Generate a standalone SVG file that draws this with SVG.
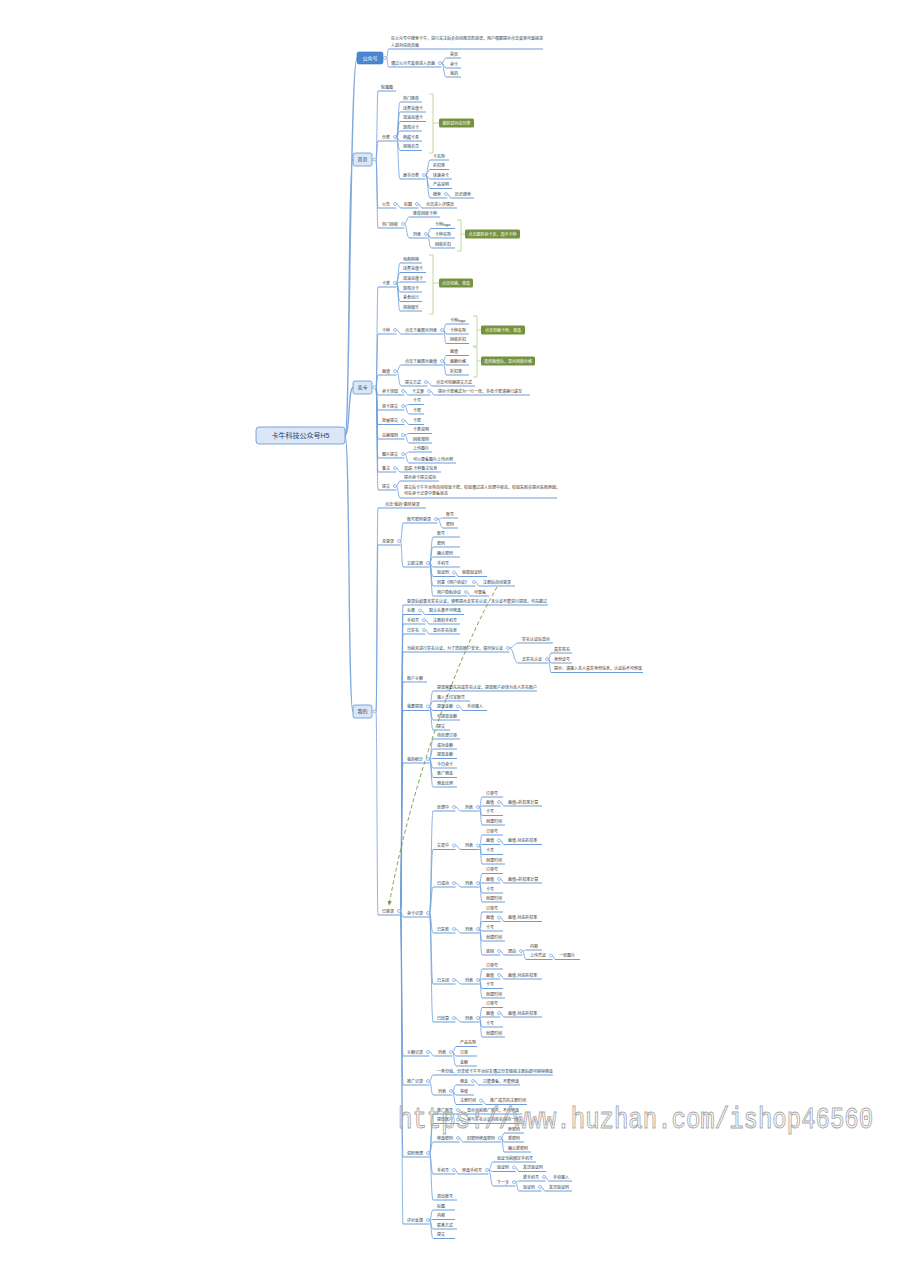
<svg xmlns="http://www.w3.org/2000/svg" width="900" height="1274" viewBox="0 0 900 1274">
<defs>
<style>
text{font-family:"Liberation Sans","Noto Sans CJK SC",sans-serif;}
.t{font-size:4px;fill:#333;}
.u{stroke:#5b92d6;stroke-width:0.9;fill:none;}
.c{stroke:#6f9fdb;stroke-width:0.8;fill:none;}
.m{stroke:#7ea8de;stroke-width:1.3;fill:none;}
.k{fill:#fff;stroke:#5b92d6;stroke-width:0.6;}
.box{fill:#dbe7f6;stroke:#5b92d6;stroke-width:0.8;}
.mt{font-size:5px;fill:#1f3f6e;text-anchor:middle;}
.br{stroke:#c2d69a;stroke-width:1;fill:none;}
.lb{fill:#76923c;}
.lt{font-size:4px;fill:#fff;text-anchor:middle;}
.wm{font-family:"Liberation Mono",monospace;font-size:24px;fill:none;stroke:#a8a8a8;stroke-width:0.8;}
.dash{stroke:#7a9a3e;stroke-width:0.9;fill:none;stroke-dasharray:4 2.5;}
</style>
<marker id="arr" viewBox="0 0 10 10" refX="9" refY="5" markerWidth="5" markerHeight="5" orient="auto"><path d="M0 0L10 5L0 10z" fill="#7a9a3e"/></marker>
</defs>
<rect width="900" height="1274" fill="#fff"/>

<g id="connectors">
<path class="m" d="M345 435.5C350 435.5 350 58 357 58M345 435.5C350 435.5 348 159.5 353 159.5M345 435.5C350 435.5 348 387.5 353 387.5M345 435.5C350 435.5 348 711.5 353 711.5"/>
<path class="c" d="M386.5 58C387.5 58 387.5 49 388.5 49M386.5 58C387.5 58 387.5 67 388.5 67"/>
<path class="c" d="M441.5 63C443.8 63 443.8 58 446 58M441.5 63C443.8 63 443.8 68 446 68M441.5 63C443.8 63 443.8 77 446 77"/>
<path class="c" d="M376 159.5C377 159.5 377 91 378 91M376 159.5C377 159.5 377 141 378 141M376 159.5C377 159.5 377 208 378 208M376 159.5C377 159.5 377 228 378 228"/>
<path class="c" d="M396.5 137C398.2 137 398.2 102 400 102M396.5 137C398.2 137 398.2 112 400 112M396.5 137C398.2 137 398.2 121.5 400 121.5M396.5 137C398.2 137 398.2 131 400 131M396.5 137C398.2 137 398.2 141 400 141M396.5 137C398.2 137 398.2 150.5 400 150.5M396.5 137C398.2 137 398.2 179 400 179"/>
<path class="c" d="M425.5 175C427.8 175 427.8 160 430 160M425.5 175C427.8 175 427.8 169.5 430 169.5M425.5 175C427.8 175 427.8 179 430 179M425.5 175C427.8 175 427.8 188.5 430 188.5M425.5 175C427.8 175 427.8 198 430 198"/>
<path class="c" d="M447.5 194C449.2 194 449.2 198 451 198"/>
<path class="c" d="M396.5 204C398.8 204 398.8 208 401 208"/>
<path class="c" d="M418.5 204C420.2 204 420.2 208 422 208"/>
<path class="c" d="M404.5 224C406.8 224 406.8 217 409 217M404.5 224C406.8 224 406.8 238 409 238"/>
<path class="c" d="M427.5 234C429.2 234 429.2 228.5 431 228.5M427.5 234C429.2 234 429.2 238 431 238M427.5 234C429.2 234 429.2 248 431 248"/>
<path class="c" d="M376 387.5C377 387.5 377 287 378 287M376 387.5C377 387.5 377 334 378 334M376 387.5C377 387.5 377 375 378 375M376 387.5C377 387.5 377 395 378 395M376 387.5C377 387.5 377 410 378 410M376 387.5C377 387.5 377 424.5 378 424.5M376 387.5C377 387.5 377 439 378 439M376 387.5C377 387.5 377 458 378 458M376 387.5C377 387.5 377 472 378 472M376 387.5C377 387.5 377 490 378 490"/>
<path class="c" d="M396.5 283C398.2 283 398.2 263 400 263M396.5 283C398.2 283 398.2 272.5 400 272.5M396.5 283C398.2 283 398.2 282 400 282M396.5 283C398.2 283 398.2 292 400 292M396.5 283C398.2 283 398.2 301.5 400 301.5M396.5 283C398.2 283 398.2 311 400 311"/>
<path class="c" d="M396.5 330C398.8 330 398.8 334 401 334"/>
<path class="c" d="M443.5 330C444.8 330 444.8 324 446 324M443.5 330C444.8 330 444.8 334 446 334M443.5 330C444.8 330 444.8 343.5 446 343.5"/>
<path class="c" d="M396.5 371C398.8 371 398.8 365 401 365M396.5 371C398.8 371 398.8 386 401 386"/>
<path class="c" d="M443.5 361C444.8 361 444.8 355.5 446 355.5M443.5 361C444.8 361 444.8 365 446 365M443.5 361C444.8 361 444.8 375 446 375"/>
<path class="c" d="M427.5 382C429.8 382 429.8 386 432 386"/>
<path class="c" d="M404.5 391C406.2 391 406.2 395 408 395"/>
<path class="c" d="M430.5 391C432.2 391 432.2 395 434 395"/>
<path class="c" d="M404.5 406C406.8 406 406.8 404.5 409 404.5M404.5 406C406.8 406 406.8 414 409 414"/>
<path class="c" d="M404.5 420.5C406.8 420.5 406.8 424.5 409 424.5"/>
<path class="c" d="M404.5 435C406.8 435 406.8 433.5 409 433.5M404.5 435C406.8 435 406.8 443 409 443"/>
<path class="c" d="M404.5 454C406.8 454 406.8 452 409 452M404.5 454C406.8 454 406.8 463 409 463"/>
<path class="c" d="M396.5 468C398.2 468 398.2 472 400 472"/>
<path class="c" d="M396.5 486C398.2 486 398.2 481 400 481M396.5 486C398.2 486 398.2 498 400 498"/>
<path class="c" d="M376 711.5C377 711.5 377 508 378 508M376 711.5C377 711.5 377 545 378 545M376 711.5C377 711.5 377 915 378 915"/>
<path class="c" d="M400.5 541C401.8 541 401.8 523 403 523M400.5 541C401.8 541 401.8 567 403 567"/>
<path class="c" d="M437.5 519C440.2 519 440.2 518 443 518M437.5 519C440.2 519 440.2 528 443 528"/>
<path class="c" d="M429.5 563C431.2 563 431.2 537 433 537M429.5 563C431.2 563 431.2 547 433 547M429.5 563C431.2 563 431.2 557 433 557M429.5 563C431.2 563 431.2 567 433 567M429.5 563C431.2 563 431.2 576.5 433 576.5M429.5 563C431.2 563 431.2 586 433 586M429.5 563C431.2 563 431.2 596 433 596"/>
<path class="c" d="M455.5 572.5C456.8 572.5 456.8 576.5 458 576.5M475.5 582C477.2 582 477.2 586 479 586M467.5 592C468.8 592 468.8 596 470 596"/>
<path class="c" d="M400.5 911C401.8 911 401.8 605 403 605M400.5 911C401.8 911 401.8 614.5 403 614.5M400.5 911C401.8 911 401.8 624 403 624M400.5 911C401.8 911 401.8 634 403 634M400.5 911C401.8 911 401.8 652 403 652M400.5 911C401.8 911 401.8 682 403 682M400.5 911C401.8 911 401.8 710.5 403 710.5M400.5 911C401.8 911 401.8 763 403 763M400.5 911C401.8 911 401.8 917 403 917M400.5 911C401.8 911 401.8 1056 403 1056M400.5 911C401.8 911 401.8 1085 403 1085M400.5 911C401.8 911 401.8 1157 403 1157M400.5 911C401.8 911 401.8 1224 403 1224"/>
<path class="c" d="M421.5 610.5C423.2 610.5 423.2 614.5 425 614.5M425.5 620C427.2 620 427.2 624 429 624M425.5 630C427.2 630 427.2 634 429 634"/>
<path class="c" d="M509.5 648C513.8 648 513.8 643 518 643M509.5 648C513.8 648 513.8 663 518 663"/>
<path class="c" d="M548.5 659C549.8 659 549.8 653 551 653M548.5 659C549.8 659 549.8 663 551 663M548.5 659C549.8 659 549.8 672.5 551 672.5"/>
<path class="c" d="M429.5 706.5C431.2 706.5 431.2 691 433 691M429.5 706.5C431.2 706.5 431.2 701 433 701M429.5 706.5C431.2 706.5 431.2 710.5 433 710.5M429.5 706.5C431.2 706.5 431.2 720 433 720M429.5 706.5C431.2 706.5 431.2 730 433 730"/>
<path class="c" d="M459.5 706.5C461.2 706.5 461.2 710.5 463 710.5"/>
<path class="c" d="M429.5 759C431.2 759 431.2 739 433 739M429.5 759C431.2 759 431.2 749 433 749M429.5 759C431.2 759 431.2 758.5 433 758.5M429.5 759C431.2 759 431.2 768 433 768M429.5 759C431.2 759 431.2 777.5 433 777.5M429.5 759C431.2 759 431.2 787 433 787"/>
<path class="c" d="M429.5 913C431.2 913 431.2 811 433 811M429.5 913C431.2 913 431.2 849.5 433 849.5M429.5 913C431.2 913 431.2 887 433 887M429.5 913C431.2 913 431.2 933 433 933M429.5 913C431.2 913 431.2 984 433 984M429.5 913C431.2 913 431.2 1022 433 1022"/>
<path class="c" d="M455.5 807C458.2 807 458.2 811 461 811M455.5 845.5C458.2 845.5 458.2 849.5 461 849.5M455.5 883C458.2 883 458.2 887 461 887M455.5 929C458.2 929 458.2 933 461 933M455.5 980C458.2 980 458.2 984 461 984M455.5 1018C458.2 1018 458.2 1022 461 1022"/>
<path class="c" d="M479.5 807C480.8 807 480.8 797 482 797M479.5 807C480.8 807 480.8 806 482 806M479.5 807C480.8 807 480.8 815.5 482 815.5M479.5 807C480.8 807 480.8 825 482 825"/>
<path class="c" d="M479.5 845.5C480.8 845.5 480.8 835 482 835M479.5 845.5C480.8 845.5 480.8 844.5 482 844.5M479.5 845.5C480.8 845.5 480.8 854.5 482 854.5M479.5 845.5C480.8 845.5 480.8 864 482 864"/>
<path class="c" d="M479.5 883C480.8 883 480.8 873.5 482 873.5M479.5 883C480.8 883 480.8 883 482 883M479.5 883C480.8 883 480.8 893 482 893M479.5 883C480.8 883 480.8 902 482 902"/>
<path class="c" d="M479.5 929C480.8 929 480.8 912 482 912M479.5 929C480.8 929 480.8 921.5 482 921.5M479.5 929C480.8 929 480.8 931 482 931M479.5 929C480.8 929 480.8 941 482 941M479.5 929C480.8 929 480.8 955 482 955"/>
<path class="c" d="M479.5 980C480.8 980 480.8 969 482 969M479.5 980C480.8 980 480.8 979 482 979M479.5 980C480.8 980 480.8 988.5 482 988.5M479.5 980C480.8 980 480.8 998 482 998"/>
<path class="c" d="M479.5 1018C480.8 1018 480.8 1007.5 482 1007.5M479.5 1018C480.8 1018 480.8 1017 482 1017M479.5 1018C480.8 1018 480.8 1027 482 1027M479.5 1018C480.8 1018 480.8 1037 482 1037"/>
<path class="c" d="M500.5 802C502.2 802 502.2 806 504 806M500.5 840.5C502.2 840.5 502.2 844.5 504 844.5M500.5 879C502.2 879 502.2 883 504 883M500.5 917.5C502.2 917.5 502.2 921.5 504 921.5M500.5 951C502.2 951 502.2 955 504 955M500.5 975C502.2 975 502.2 979 504 979M500.5 1013C502.2 1013 502.2 1017 504 1017"/>
<path class="c" d="M522.5 951C524.2 951 524.2 950 526 950M522.5 951C524.2 951 524.2 959.5 526 959.5M552.5 955.5C553.8 955.5 553.8 959.5 555 959.5"/>
<path class="c" d="M429.5 1052C431.8 1052 431.8 1056 434 1056"/>
<path class="c" d="M452.5 1052C454.2 1052 454.2 1046.5 456 1046.5M452.5 1052C454.2 1052 454.2 1056 456 1056M452.5 1052C454.2 1052 454.2 1066 456 1066"/>
<path class="c" d="M429.5 1081C431.2 1081 431.2 1075 433 1075M429.5 1081C431.2 1081 431.2 1095 433 1095"/>
<path class="c" d="M452.5 1091C454.2 1091 454.2 1085 456 1085M452.5 1091C454.2 1091 454.2 1095 456 1095M452.5 1091C454.2 1091 454.2 1104.5 456 1104.5"/>
<path class="c" d="M474.5 1081C476.8 1081 476.8 1085 479 1085M482.5 1100.5C484.2 1100.5 484.2 1104.5 486 1104.5"/>
<path class="c" d="M429.5 1153C431.2 1153 431.2 1114 433 1114M429.5 1153C431.2 1153 431.2 1123.5 433 1123.5M429.5 1153C431.2 1153 431.2 1142 433 1142M429.5 1153C431.2 1153 431.2 1174 433 1174M429.5 1153C431.2 1153 431.2 1200 433 1200"/>
<path class="c" d="M459.5 1110C461.2 1110 461.2 1114 463 1114M459.5 1119.5C461.2 1119.5 461.2 1123.5 463 1123.5M459.5 1138C461.2 1138 461.2 1142 463 1142"/>
<path class="c" d="M501.5 1138C502.8 1138 502.8 1133 504 1133M501.5 1138C502.8 1138 502.8 1142 504 1142M501.5 1138C502.8 1138 502.8 1152 504 1152"/>
<path class="c" d="M455.5 1170C456.8 1170 456.8 1174 458 1174"/>
<path class="c" d="M488.5 1170C490.8 1170 490.8 1162 493 1162M488.5 1170C490.8 1170 490.8 1171.5 493 1171.5M488.5 1170C490.8 1170 490.8 1186 493 1186"/>
<path class="c" d="M515.5 1167.5C517.2 1167.5 517.2 1171.5 519 1171.5M515.5 1182C517.2 1182 517.2 1181 519 1181M515.5 1182C517.2 1182 517.2 1191 519 1191"/>
<path class="c" d="M545.5 1177C547.2 1177 547.2 1181 549 1181M541.5 1187C543.2 1187 543.2 1191 545 1191"/>
<path class="c" d="M429.5 1220C431.2 1220 431.2 1210 433 1210M429.5 1220C431.2 1220 431.2 1219.5 433 1219.5M429.5 1220C431.2 1220 431.2 1229 433 1229M429.5 1220C431.2 1220 431.2 1238.5 433 1238.5"/>
<path class="dash" d="M497 587C455 660 410 790 389 905" marker-end="url(#arr)"/>
</g>

<g id="root"><rect x="256" y="427" width="89" height="17" rx="3" class="box"/><text x="300.5" y="438" class="mt" style="font-size:7px">卡牛科技公众号H5</text></g>

<g id="gzh"><rect x="357" y="52" width="26" height="12" rx="2" fill="#4a88d2" stroke="#3a72bb" stroke-width="0.6"/><text x="370" y="59.8" class="mt" style="fill:#fff">公众号</text><circle class="k" cx="385" cy="58" r="1.5"/></g>
<g id="gzh-1"><text class="t" x="391" y="40">在公众号中搜索卡牛，进行关注后会自动推送欢迎语，用户根据提示点击菜单可直接进</text><text class="t" x="391" y="46.5">入到对应的页面</text><path class="u" d="M388.5 49H543"/></g>
<g id="gzh-2"><text class="t" x="391" y="64.5">通过公众号菜单进入页面</text><path class="u" d="M388.5 67H441.5"/><circle class="k" cx="440" cy="63" r="1.5"/></g>
<g id="gzh-2-1"><text class="t" x="450" y="55.5">首页</text><path class="u" d="M446 58H461"/></g>
<g id="gzh-2-2"><text class="t" x="450" y="65.5">卖卡</text><path class="u" d="M446 68H461"/></g>
<g id="gzh-2-3"><text class="t" x="450" y="74.5">我的</text><path class="u" d="M446 77H461"/></g>

<g id="sy"><rect x="353" y="153" width="19" height="13" rx="2" class="box"/><text x="362.5" y="161.3" class="mt">首页</text><circle class="k" cx="374.5" cy="159.5" r="1.5"/></g>
<g id="sy-1"><text class="t" x="381" y="88.5">轮播图</text><path class="u" d="M378 91H396"/></g>
<g id="sy-2"><text class="t" x="382" y="138.5">分类</text><path class="u" d="M378 141H396.5"/><circle class="k" cx="395" cy="137" r="1.5"/></g>
<g id="sy-2-1"><text class="t" x="403" y="99.5">热门推荐</text><path class="u" d="M400 102H422"/></g>
<g id="sy-2-2"><text class="t" x="403" y="109.5">话费充值卡</text><path class="u" d="M400 112H426"/></g>
<g id="sy-2-3"><text class="t" x="403" y="119">加油充值卡</text><path class="u" d="M400 121.5H426"/></g>
<g id="sy-2-4"><text class="t" x="403" y="128.5">游戏点卡</text><path class="u" d="M400 131H422"/></g>
<g id="sy-2-5"><text class="t" x="403" y="138.5">商超卡券</text><path class="u" d="M400 141H422"/></g>
<g id="sy-2-6"><text class="t" x="403" y="148">视频会员</text><path class="u" d="M400 150.5H422"/></g>
<g id="sy-2-s"><path class="br" d="M429 94H433V153H429M433 123H439"/><rect class="lb" x="439" y="118.5" width="35" height="9" rx="1.5"/><text class="lt" x="456.5" y="124.5">跳转到对应分类</text></g>
<g id="sy-2-7"><text class="t" x="403" y="176.5">更多分类</text><path class="u" d="M400 179H425.5"/><circle class="k" cx="424" cy="175" r="1.5"/></g>
<g id="sy-2-7-1"><text class="t" x="433" y="157.5">卡名称</text><path class="u" d="M430 160H449"/></g>
<g id="sy-2-7-2"><text class="t" x="433" y="167">折扣率</text><path class="u" d="M430 169.5H449"/></g>
<g id="sy-2-7-3"><text class="t" x="433" y="176.5">快速卖卡</text><path class="u" d="M430 179H452"/></g>
<g id="sy-2-7-4"><text class="t" x="433" y="186">产品说明</text><path class="u" d="M430 188.5H452"/></g>
<g id="sy-2-7-5"><text class="t" x="433" y="195.5">搜索</text><path class="u" d="M430 198H447.5"/><circle class="k" cx="446" cy="194" r="1.5"/></g>
<g id="sy-2-7-5-1"><text class="t" x="455" y="195.5">历史搜索</text><path class="u" d="M451 198H474"/></g>
<g id="sy-3"><text class="t" x="382" y="205.5">公告</text><path class="u" d="M378 208H396.5"/><circle class="k" cx="395" cy="204" r="1.5"/></g>
<g id="sy-3-1"><text class="t" x="404" y="205.5">标题</text><path class="u" d="M401 208H418.5"/><circle class="k" cx="417" cy="204" r="1.5"/></g>
<g id="sy-3-1-1"><text class="t" x="426" y="205.5">点击进入详情页</text><path class="u" d="M422 208H457"/></g>
<g id="sy-4"><text class="t" x="382" y="225.5">热门回收</text><path class="u" d="M378 228H404.5"/><circle class="k" cx="403" cy="224" r="1.5"/></g>
<g id="sy-4-1"><text class="t" x="413" y="214.5">推荐回收卡种</text><path class="u" d="M409 217H440"/></g>
<g id="sy-4-2"><text class="t" x="413" y="235.5">列表</text><path class="u" d="M409 238H427.5"/><circle class="k" cx="426" cy="234" r="1.5"/></g>
<g id="sy-4-2-1"><text class="t" x="435" y="226">卡种logo</text><path class="u" d="M431 228.5H455"/></g>
<g id="sy-4-2-2"><text class="t" x="435" y="235.5">卡种名称</text><path class="u" d="M431 238H455"/></g>
<g id="sy-4-2-3"><text class="t" x="435" y="245.5">回收折扣</text><path class="u" d="M431 248H455"/></g>
<g id="sy-4-s"><path class="br" d="M457 220H461V251H457M461 234H465"/><rect class="lb" x="465" y="229.5" width="55" height="9" rx="1.5"/><text class="lt" x="492.5" y="235.5">点击跳转卖卡页，选中卡种</text></g>

<g id="mk"><rect x="353" y="381" width="19" height="13" rx="2" class="box"/><text x="362.5" y="389.3" class="mt">卖卡</text><circle class="k" cx="374.5" cy="387.5" r="1.5"/></g>
<g id="mk-1"><text class="t" x="382" y="284.5">卡类</text><path class="u" d="M378 287H396.5"/><circle class="k" cx="395" cy="283" r="1.5"/></g>
<g id="mk-1-1"><text class="t" x="403" y="260.5">电商购物</text><path class="u" d="M400 263H422"/></g>
<g id="mk-1-2"><text class="t" x="403" y="270">话费充值卡</text><path class="u" d="M400 272.5H426"/></g>
<g id="mk-1-3"><text class="t" x="403" y="279.5">加油充值卡</text><path class="u" d="M400 282H426"/></g>
<g id="mk-1-4"><text class="t" x="403" y="289.5">游戏点卡</text><path class="u" d="M400 292H422"/></g>
<g id="mk-1-5"><text class="t" x="403" y="299">美食出行</text><path class="u" d="M400 301.5H422"/></g>
<g id="mk-1-6"><text class="t" x="403" y="308.5">视频娱乐</text><path class="u" d="M400 311H422"/></g>
<g id="mk-1-s"><path class="br" d="M429 255H433V314H429M433 283H439"/><rect class="lb" x="439" y="278.5" width="34" height="9" rx="1.5"/><text class="lt" x="456" y="284.5">点击切换，单选</text></g>
<g id="mk-2"><text class="t" x="382" y="331.5">卡种</text><path class="u" d="M378 334H396.5"/><circle class="k" cx="395" cy="330" r="1.5"/></g>
<g id="mk-2-1"><text class="t" x="405" y="331.5">点击下面展示列表</text><path class="u" d="M401 334H443.5"/><circle class="k" cx="442" cy="330" r="1.5"/></g>
<g id="mk-2-1-1"><text class="t" x="450" y="321.5">卡种logo</text><path class="u" d="M446 324H469"/></g>
<g id="mk-2-1-2"><text class="t" x="450" y="331.5">卡种名称</text><path class="u" d="M446 334H469"/></g>
<g id="mk-2-1-3"><text class="t" x="450" y="341">回收折扣</text><path class="u" d="M446 343.5H469"/></g>
<g id="mk-2-s"><path class="br" d="M473 316H477V346H473M477 330H481"/><rect class="lb" x="481" y="325.5" width="44" height="9" rx="1.5"/><text class="lt" x="503" y="331.5">点击切换卡种，单选</text></g>
<g id="mk-3"><text class="t" x="382" y="372.5">面值</text><path class="u" d="M378 375H396.5"/><circle class="k" cx="395" cy="371" r="1.5"/></g>
<g id="mk-3-1"><text class="t" x="405" y="362.5">点击下面展示面值</text><path class="u" d="M401 365H443.5"/><circle class="k" cx="442" cy="361" r="1.5"/></g>
<g id="mk-3-1-1"><text class="t" x="450" y="353">面值</text><path class="u" d="M446 355.5H469"/></g>
<g id="mk-3-1-2"><text class="t" x="450" y="362.5">面额价格</text><path class="u" d="M446 365H469"/></g>
<g id="mk-3-1-3"><text class="t" x="450" y="372.5">折扣率</text><path class="u" d="M446 375H469"/></g>
<g id="mk-3-s"><path class="br" d="M473 347H477V377H473M477 361H481"/><rect class="lb" x="481" y="356.5" width="54" height="9" rx="1.5"/><text class="lt" x="508" y="362.5">选择面值后，显示回收价格</text></g>
<g id="mk-3-2"><text class="t" x="405" y="383.5">提交方式</text><path class="u" d="M401 386H427.5"/><circle class="k" cx="426" cy="382" r="1.5"/></g>
<g id="mk-3-2-1"><text class="t" x="436" y="383.5">点击可切换提交方式</text><path class="u" d="M432 386H475"/></g>
<g id="mk-4"><text class="t" x="382" y="392.5">卖卡须知</text><path class="u" d="M378 395H404.5"/><circle class="k" cx="403" cy="391" r="1.5"/></g>
<g id="mk-4-1"><text class="t" x="412" y="392.5">卡文案</text><path class="u" d="M408 395H430.5"/><circle class="k" cx="429" cy="391" r="1.5"/></g>
<g id="mk-4-1-1"><text class="t" x="438" y="392.5">提示卡密格式为一行一张，多张卡密请换行填写</text><path class="u" d="M434 395H530"/></g>
<g id="mk-5"><text class="t" x="382" y="407.5">单卡提交</text><path class="u" d="M378 410H404.5"/><circle class="k" cx="403" cy="406" r="1.5"/></g>
<g id="mk-5-1"><text class="t" x="413" y="402">卡号</text><path class="u" d="M409 404.5H424"/></g>
<g id="mk-5-2"><text class="t" x="413" y="411.5">卡密</text><path class="u" d="M409 414H424"/></g>
<g id="mk-6"><text class="t" x="382" y="422">批量提交</text><path class="u" d="M378 424.5H404.5"/><circle class="k" cx="403" cy="420.5" r="1.5"/></g>
<g id="mk-6-1"><text class="t" x="413" y="422">卡密</text><path class="u" d="M409 424.5H424"/></g>
<g id="mk-7"><text class="t" x="382" y="436.5">兑换规则</text><path class="u" d="M378 439H404.5"/><circle class="k" cx="403" cy="435" r="1.5"/></g>
<g id="mk-7-1"><text class="t" x="413" y="431">卡类说明</text><path class="u" d="M409 433.5H432"/></g>
<g id="mk-7-2"><text class="t" x="413" y="440.5">回收规则</text><path class="u" d="M409 443H432"/></g>
<g id="mk-8"><text class="t" x="382" y="455.5">图片提交</text><path class="u" d="M378 458H404.5"/><circle class="k" cx="403" cy="454" r="1.5"/></g>
<g id="mk-8-1"><text class="t" x="413" y="449.5">上传图片</text><path class="u" d="M409 452H432"/></g>
<g id="mk-8-2"><text class="t" x="413" y="460.5">可以查看图片上传示例</text><path class="u" d="M409 463H456"/></g>
<g id="mk-9"><text class="t" x="382" y="469.5">备注</text><path class="u" d="M378 472H396.5"/><circle class="k" cx="395" cy="468" r="1.5"/></g>
<g id="mk-9-1"><text class="t" x="404" y="469.5">选填-卡种备注信息</text><path class="u" d="M400 472H441"/></g>
<g id="mk-10"><text class="t" x="382" y="487.5">提交</text><path class="u" d="M378 490H396.5"/><circle class="k" cx="395" cy="486" r="1.5"/></g>
<g id="mk-10-1"><text class="t" x="404" y="478.5">提示卖卡提交成功</text><path class="u" d="M400 481H439"/></g>
<g id="mk-10-2"><text class="t" x="404" y="488.5">提交后卡牛平台将自动校验卡密，校验通过进入处理中状态，校验失败会提示失败原因，</text><text class="t" x="404" y="495">可在卖卡记录中查看状态</text><path class="u" d="M400 498H557"/></g>

<g id="wd"><rect x="353" y="705" width="19" height="13" rx="2" class="box"/><text x="362.5" y="713.3" class="mt">我的</text><circle class="k" cx="374.5" cy="711.5" r="1.5"/></g>
<g id="wd-1"><text class="t" x="385" y="505.5">点击“我的”跳转登录</text><path class="u" d="M378 508H426"/></g>
<g id="wd-2"><text class="t" x="382" y="542.5">未登录</text><path class="u" d="M378 545H400.5"/><circle class="k" cx="399" cy="541" r="1.5"/></g>
<g id="wd-2-1"><text class="t" x="407" y="520.5">账号密码登录</text><path class="u" d="M403 523H437.5"/><circle class="k" cx="436" cy="519" r="1.5"/></g>
<g id="wd-2-1-1"><text class="t" x="446" y="515.5">账号</text><path class="u" d="M443 518H458"/></g>
<g id="wd-2-1-2"><text class="t" x="446" y="525.5">密码</text><path class="u" d="M443 528H458"/></g>
<g id="wd-2-2"><text class="t" x="407" y="564.5">立即注册</text><path class="u" d="M403 567H429.5"/><circle class="k" cx="428" cy="563" r="1.5"/></g>
<g id="wd-2-2-1"><text class="t" x="437" y="534.5">账号</text><path class="u" d="M433 537H460"/></g>
<g id="wd-2-2-2"><text class="t" x="437" y="544.5">密码</text><path class="u" d="M433 547H460"/></g>
<g id="wd-2-2-3"><text class="t" x="437" y="554.5">确认密码</text><path class="u" d="M433 557H460"/></g>
<g id="wd-2-2-4"><text class="t" x="437" y="564.5">手机号</text><path class="u" d="M433 567H460"/></g>
<g id="wd-2-2-5"><text class="t" x="437" y="574">验证码</text><path class="u" d="M433 576.5H455.5"/><circle class="k" cx="454" cy="572.5" r="1.5"/></g>
<g id="wd-2-2-5-1"><text class="t" x="462" y="574">获取验证码</text><path class="u" d="M458 576.5H487"/></g>
<g id="wd-2-2-6"><text class="t" x="437" y="583.5">同意《用户协议》</text><path class="u" d="M433 586H475.5"/><circle class="k" cx="474" cy="582" r="1.5"/></g>
<g id="wd-2-2-6-1"><text class="t" x="483" y="583.5">注册后自动登录</text><path class="u" d="M479 586H515"/></g>
<g id="wd-2-2-7"><text class="t" x="437" y="593.5">用户隐私协议</text><path class="u" d="M433 596H467.5"/><circle class="k" cx="466" cy="592" r="1.5"/></g>
<g id="wd-2-2-7-1"><text class="t" x="474" y="593.5">可查看</text><path class="u" d="M470 596H489"/></g>

<g id="wd-3"><text class="t" x="382" y="912.5">已登录</text><path class="u" d="M378 915H400.5"/><circle class="k" cx="399" cy="911" r="1.5"/></g>
<g id="dl-1"><text class="t" x="407" y="602.5">登录后如果未实名认证，弹框提示去实名认证，未认证不能进行提现，可先跳过</text><path class="u" d="M403 605H548"/></g>
<g id="dl-2"><text class="t" x="407" y="612">头像</text><path class="u" d="M403 614.5H421.5"/><circle class="k" cx="420" cy="610.5" r="1.5"/></g>
<g id="dl-2-1"><text class="t" x="429" y="612">默认头像不可修改</text><path class="u" d="M425 614.5H464"/></g>
<g id="dl-3"><text class="t" x="407" y="621.5">手机号</text><path class="u" d="M403 624H425.5"/><circle class="k" cx="424" cy="620" r="1.5"/></g>
<g id="dl-3-1"><text class="t" x="433" y="621.5">注册的手机号</text><path class="u" d="M429 624H460"/></g>
<g id="dl-4"><text class="t" x="407" y="631.5">已实名</text><path class="u" d="M403 634H425.5"/><circle class="k" cx="424" cy="630" r="1.5"/></g>
<g id="dl-4-1"><text class="t" x="433" y="631.5">显示实名信息</text><path class="u" d="M429 634H460"/></g>
<g id="dl-5"><text class="t" x="407" y="649.5">当前未进行实名认证，为了您的账户安全，请尽快认证</text><path class="u" d="M403 652H509.5"/><circle class="k" cx="508" cy="648" r="1.5"/></g>
<g id="dl-5-1"><text class="t" x="522" y="640.5">实名认证后显示</text><path class="u" d="M518 643H553"/></g>
<g id="dl-5-2"><text class="t" x="522" y="660.5">去实名认证</text><path class="u" d="M518 663H548.5"/><circle class="k" cx="547" cy="659" r="1.5"/></g>
<g id="dl-5-2-1"><text class="t" x="554" y="650.5">真实姓名</text><path class="u" d="M551 653H572"/></g>
<g id="dl-5-2-2"><text class="t" x="554" y="660.5">身份证号</text><path class="u" d="M551 663H572"/></g>
<g id="dl-5-2-3"><text class="t" x="554" y="670">提示：请输入本人真实身份信息，认证后不可修改</text><path class="u" d="M551 672.5H643"/></g>
<g id="dl-6"><text class="t" x="407" y="679.5">账户余额</text><path class="u" d="M403 682H427"/></g>
<g id="dl-7"><text class="t" x="407" y="708">我要提现</text><path class="u" d="M403 710.5H429.5"/><circle class="k" cx="428" cy="706.5" r="1.5"/></g>
<g id="dl-7-1"><text class="t" x="437" y="688.5">提现需要先完成实名认证，提现账户必须为本人实名账户</text><path class="u" d="M433 691H537"/></g>
<g id="dl-7-2"><text class="t" x="437" y="698.5">输入支付宝账号</text><path class="u" d="M433 701H470"/></g>
<g id="dl-7-3"><text class="t" x="437" y="708">提现金额</text><path class="u" d="M433 710.5H459.5"/><circle class="k" cx="458" cy="706.5" r="1.5"/></g>
<g id="dl-7-3-1"><text class="t" x="467" y="708">手动输入</text><path class="u" d="M463 710.5H487"/></g>
<g id="dl-7-4"><text class="t" x="437" y="717.5">可提现金额</text><path class="u" d="M433 720H460"/></g>
<g id="dl-7-5"><text class="t" x="437" y="727.5">提交</text><path class="u" d="M433 730H450"/></g>
<g id="dl-8"><text class="t" x="407" y="760.5">我的统计</text><path class="u" d="M403 763H429.5"/><circle class="k" cx="428" cy="759" r="1.5"/></g>
<g id="dl-8-1"><text class="t" x="437" y="736.5">待处理订单</text><path class="u" d="M433 739H460"/></g>
<g id="dl-8-2"><text class="t" x="437" y="746.5">成功金额</text><path class="u" d="M433 749H457"/></g>
<g id="dl-8-3"><text class="t" x="437" y="756">提现金额</text><path class="u" d="M433 758.5H457"/></g>
<g id="dl-8-4"><text class="t" x="437" y="765.5">今日卖卡</text><path class="u" d="M433 768H457"/></g>
<g id="dl-8-5"><text class="t" x="437" y="775">推广佣金</text><path class="u" d="M433 777.5H457"/></g>
<g id="dl-8-6"><text class="t" x="437" y="784.5">佣金比例</text><path class="u" d="M433 787H457"/></g>

<g id="dl-9"><text class="t" x="407" y="914.5">卖卡记录</text><path class="u" d="M403 917H429.5"/><circle class="k" cx="428" cy="913" r="1.5"/></g>
<g id="dl-9-a"><text class="t" x="437" y="808.5">处理中</text><path class="u" d="M433 811H455.5"/><circle class="k" cx="454" cy="807" r="1.5"/></g>
<g id="dl-9-a-l"><text class="t" x="465" y="808.5">列表</text><path class="u" d="M461 811H479.5"/><circle class="k" cx="478" cy="807" r="1.5"/></g>
<g id="dl-9-a-1"><text class="t" x="486" y="794.5">订单号</text><path class="u" d="M482 797H503"/></g>
<g id="dl-9-a-2"><text class="t" x="486" y="803.5">面值</text><path class="u" d="M482 806H500.5"/><circle class="k" cx="499" cy="802" r="1.5"/></g>
<g id="dl-9-a-2-1"><text class="t" x="508" y="803.5">面值×折扣率计算</text><path class="u" d="M504 806H542"/></g>
<g id="dl-9-a-3"><text class="t" x="486" y="813">卡号</text><path class="u" d="M482 815.5H503"/></g>
<g id="dl-9-a-4"><text class="t" x="486" y="822.5">创建时间</text><path class="u" d="M482 825H505"/></g>
<g id="dl-9-b"><text class="t" x="437" y="847">交易中</text><path class="u" d="M433 849.5H455.5"/><circle class="k" cx="454" cy="845.5" r="1.5"/></g>
<g id="dl-9-b-l"><text class="t" x="465" y="847">列表</text><path class="u" d="M461 849.5H479.5"/><circle class="k" cx="478" cy="845.5" r="1.5"/></g>
<g id="dl-9-b-1"><text class="t" x="486" y="832.5">订单号</text><path class="u" d="M482 835H503"/></g>
<g id="dl-9-b-2"><text class="t" x="486" y="842">面值</text><path class="u" d="M482 844.5H500.5"/><circle class="k" cx="499" cy="840.5" r="1.5"/></g>
<g id="dl-9-b-2-1"><text class="t" x="508" y="842">面值-对应折扣率</text><path class="u" d="M504 844.5H542"/></g>
<g id="dl-9-b-3"><text class="t" x="486" y="852">卡号</text><path class="u" d="M482 854.5H503"/></g>
<g id="dl-9-b-4"><text class="t" x="486" y="861.5">创建时间</text><path class="u" d="M482 864H505"/></g>
<g id="dl-9-c"><text class="t" x="437" y="884.5">已成功</text><path class="u" d="M433 887H455.5"/><circle class="k" cx="454" cy="883" r="1.5"/></g>
<g id="dl-9-c-l"><text class="t" x="465" y="884.5">列表</text><path class="u" d="M461 887H479.5"/><circle class="k" cx="478" cy="883" r="1.5"/></g>
<g id="dl-9-c-1"><text class="t" x="486" y="871">订单号</text><path class="u" d="M482 873.5H503"/></g>
<g id="dl-9-c-2"><text class="t" x="486" y="880.5">面值</text><path class="u" d="M482 883H500.5"/><circle class="k" cx="499" cy="879" r="1.5"/></g>
<g id="dl-9-c-2-1"><text class="t" x="508" y="880.5">面值×折扣率计算</text><path class="u" d="M504 883H542"/></g>
<g id="dl-9-c-3"><text class="t" x="486" y="890.5">卡号</text><path class="u" d="M482 893H503"/></g>
<g id="dl-9-c-4"><text class="t" x="486" y="899.5">创建时间</text><path class="u" d="M482 902H505"/></g>
<g id="dl-9-d"><text class="t" x="437" y="930.5">已失败</text><path class="u" d="M433 933H455.5"/><circle class="k" cx="454" cy="929" r="1.5"/></g>
<g id="dl-9-d-l"><text class="t" x="465" y="930.5">列表</text><path class="u" d="M461 933H479.5"/><circle class="k" cx="478" cy="929" r="1.5"/></g>
<g id="dl-9-d-1"><text class="t" x="486" y="909.5">订单号</text><path class="u" d="M482 912H503"/></g>
<g id="dl-9-d-2"><text class="t" x="486" y="919">面值</text><path class="u" d="M482 921.5H500.5"/><circle class="k" cx="499" cy="917.5" r="1.5"/></g>
<g id="dl-9-d-2-1"><text class="t" x="508" y="919">面值-对应折扣率</text><path class="u" d="M504 921.5H542"/></g>
<g id="dl-9-d-3"><text class="t" x="486" y="928.5">卡号</text><path class="u" d="M482 931H503"/></g>
<g id="dl-9-d-4"><text class="t" x="486" y="938.5">创建时间</text><path class="u" d="M482 941H505"/></g>
<g id="dl-9-d-5"><text class="t" x="486" y="952.5">驳回</text><path class="u" d="M482 955H500.5"/><circle class="k" cx="499" cy="951" r="1.5"/></g>
<g id="dl-9-d-5-1"><text class="t" x="508" y="952.5">理由</text><path class="u" d="M504 955H522.5"/><circle class="k" cx="521" cy="951" r="1.5"/></g>
<g id="dl-9-d-5-1-1"><text class="t" x="530" y="947.5">内容</text><path class="u" d="M526 950H542"/></g>
<g id="dl-9-d-5-1-2"><text class="t" x="530" y="957">上传凭证</text><path class="u" d="M526 959.5H552.5"/><circle class="k" cx="551" cy="955.5" r="1.5"/></g>
<g id="dl-9-d-5-1-2-1"><text class="t" x="559" y="957">一张图片</text><path class="u" d="M555 959.5H580"/></g>
<g id="dl-9-e"><text class="t" x="437" y="981.5">已关闭</text><path class="u" d="M433 984H455.5"/><circle class="k" cx="454" cy="980" r="1.5"/></g>
<g id="dl-9-e-l"><text class="t" x="465" y="981.5">列表</text><path class="u" d="M461 984H479.5"/><circle class="k" cx="478" cy="980" r="1.5"/></g>
<g id="dl-9-e-1"><text class="t" x="486" y="966.5">订单号</text><path class="u" d="M482 969H503"/></g>
<g id="dl-9-e-2"><text class="t" x="486" y="976.5">面值</text><path class="u" d="M482 979H500.5"/><circle class="k" cx="499" cy="975" r="1.5"/></g>
<g id="dl-9-e-2-1"><text class="t" x="508" y="976.5">面值-对应折扣率</text><path class="u" d="M504 979H542"/></g>
<g id="dl-9-e-3"><text class="t" x="486" y="986">卡号</text><path class="u" d="M482 988.5H503"/></g>
<g id="dl-9-e-4"><text class="t" x="486" y="995.5">创建时间</text><path class="u" d="M482 998H505"/></g>
<g id="dl-9-f"><text class="t" x="437" y="1019.5">已结算</text><path class="u" d="M433 1022H455.5"/><circle class="k" cx="454" cy="1018" r="1.5"/></g>
<g id="dl-9-f-l"><text class="t" x="465" y="1019.5">列表</text><path class="u" d="M461 1022H479.5"/><circle class="k" cx="478" cy="1018" r="1.5"/></g>
<g id="dl-9-f-1"><text class="t" x="486" y="1005">订单号</text><path class="u" d="M482 1007.5H503"/></g>
<g id="dl-9-f-2"><text class="t" x="486" y="1014.5">面值</text><path class="u" d="M482 1017H500.5"/><circle class="k" cx="499" cy="1013" r="1.5"/></g>
<g id="dl-9-f-2-1"><text class="t" x="508" y="1014.5">面值-对应折扣率</text><path class="u" d="M504 1017H542"/></g>
<g id="dl-9-f-3"><text class="t" x="486" y="1024.5">卡号</text><path class="u" d="M482 1027H503"/></g>
<g id="dl-9-f-4"><text class="t" x="486" y="1034.5">创建时间</text><path class="u" d="M482 1037H505"/></g>

<g id="dl-10"><text class="t" x="407" y="1053.5">余额记录</text><path class="u" d="M403 1056H429.5"/><circle class="k" cx="428" cy="1052" r="1.5"/></g>
<g id="dl-10-l"><text class="t" x="438" y="1053.5">列表</text><path class="u" d="M434 1056H452.5"/><circle class="k" cx="451" cy="1052" r="1.5"/></g>
<g id="dl-10-1"><text class="t" x="460" y="1044">产品名称</text><path class="u" d="M456 1046.5H477"/></g>
<g id="dl-10-2"><text class="t" x="460" y="1053.5">订单</text><path class="u" d="M456 1056H477"/></g>
<g id="dl-10-3"><text class="t" x="460" y="1063.5">金额</text><path class="u" d="M456 1066H477"/></g>
<g id="dl-11"><text class="t" x="407" y="1082.5">推广记录</text><path class="u" d="M403 1085H429.5"/><circle class="k" cx="428" cy="1081" r="1.5"/></g>
<g id="dl-11-1"><text class="t" x="437" y="1072.5">一条分销，分享给卡牛平台好友通过分享链接注册后即可获得佣金</text><path class="u" d="M433 1075H553"/></g>
<g id="dl-11-l"><text class="t" x="438" y="1092.5">列表</text><path class="u" d="M433 1095H452.5"/><circle class="k" cx="451" cy="1091" r="1.5"/></g>
<g id="dl-11-l-1"><text class="t" x="460" y="1082.5">佣金</text><path class="u" d="M456 1085H474.5"/><circle class="k" cx="473" cy="1081" r="1.5"/></g>
<g id="dl-11-l-1-1"><text class="t" x="483" y="1082.5">只能查看，不能修改</text><path class="u" d="M479 1085H520"/></g>
<g id="dl-11-l-2"><text class="t" x="460" y="1092.5">等级</text><path class="u" d="M456 1095H474"/></g>
<g id="dl-11-l-3"><text class="t" x="460" y="1102">注册时间</text><path class="u" d="M456 1104.5H482.5"/><circle class="k" cx="481" cy="1100.5" r="1.5"/></g>
<g id="dl-11-l-3-1"><text class="t" x="490" y="1102">推广成员的注册时间</text><path class="u" d="M486 1104.5H527"/></g>
<g id="dl-12"><text class="t" x="407" y="1154.5">资料管理</text><path class="u" d="M403 1157H429.5"/><circle class="k" cx="428" cy="1153" r="1.5"/></g>
<g id="dl-12-1"><text class="t" x="437" y="1111.5">推广账号</text><path class="u" d="M433 1114H459.5"/><circle class="k" cx="458" cy="1110" r="1.5"/></g>
<g id="dl-12-1-1"><text class="t" x="467" y="1111.5">显示当前推广账号，不可修改</text><path class="u" d="M463 1114H522"/></g>
<g id="dl-12-2"><text class="t" x="437" y="1121">提现账户</text><path class="u" d="M433 1123.5H459.5"/><circle class="k" cx="458" cy="1119.5" r="1.5"/></g>
<g id="dl-12-2-1"><text class="t" x="467" y="1121">需与实名认证的姓名保持一致</text><path class="u" d="M463 1123.5H522"/></g>
<g id="dl-12-3"><text class="t" x="437" y="1139.5">修改密码</text><path class="u" d="M433 1142H459.5"/><circle class="k" cx="458" cy="1138" r="1.5"/></g>
<g id="dl-12-3-1"><text class="t" x="467" y="1139.5">旧密码修改密码</text><path class="u" d="M463 1142H501.5"/><circle class="k" cx="500" cy="1138" r="1.5"/></g>
<g id="dl-12-3-1-1"><text class="t" x="508" y="1130.5">原密码</text><path class="u" d="M504 1133H524"/></g>
<g id="dl-12-3-1-2"><text class="t" x="508" y="1139.5">新密码</text><path class="u" d="M504 1142H524"/></g>
<g id="dl-12-3-1-3"><text class="t" x="508" y="1149.5">确认新密码</text><path class="u" d="M504 1152H531"/></g>
<g id="dl-12-4"><text class="t" x="437" y="1171.5">手机号</text><path class="u" d="M433 1174H455.5"/><circle class="k" cx="454" cy="1170" r="1.5"/></g>
<g id="dl-12-4-1"><text class="t" x="462" y="1171.5">修改手机号</text><path class="u" d="M458 1174H488.5"/><circle class="k" cx="487" cy="1170" r="1.5"/></g>
<g id="dl-12-4-1-1"><text class="t" x="497" y="1159.5">验证当前绑定手机号</text><path class="u" d="M493 1162H536"/></g>
<g id="dl-12-4-1-2"><text class="t" x="497" y="1169">验证码</text><path class="u" d="M493 1171.5H515.5"/><circle class="k" cx="514" cy="1167.5" r="1.5"/></g>
<g id="dl-12-4-1-2-1"><text class="t" x="523" y="1169">发送验证码</text><path class="u" d="M519 1171.5H546"/></g>
<g id="dl-12-4-1-3"><text class="t" x="497" y="1183.5">下一步</text><path class="u" d="M493 1186H515.5"/><circle class="k" cx="514" cy="1182" r="1.5"/></g>
<g id="dl-12-4-1-3-1"><text class="t" x="523" y="1178.5">新手机号</text><path class="u" d="M519 1181H545.5"/><circle class="k" cx="544" cy="1177" r="1.5"/></g>
<g id="dl-12-4-1-3-1-1"><text class="t" x="553" y="1178.5">手动输入</text><path class="u" d="M549 1181H572"/></g>
<g id="dl-12-4-1-3-2"><text class="t" x="523" y="1188.5">验证码</text><path class="u" d="M519 1191H541.5"/><circle class="k" cx="540" cy="1187" r="1.5"/></g>
<g id="dl-12-4-1-3-2-1"><text class="t" x="549" y="1188.5">发送验证码</text><path class="u" d="M545 1191H572"/></g>
<g id="dl-12-5"><text class="t" x="437" y="1197.5">退出账号</text><path class="u" d="M433 1200H457"/></g>
<g id="dl-13"><text class="t" x="407" y="1221.5">评价反馈</text><path class="u" d="M403 1224H429.5"/><circle class="k" cx="428" cy="1220" r="1.5"/></g>
<g id="dl-13-1"><text class="t" x="437" y="1207.5">标题</text><path class="u" d="M433 1210H455"/></g>
<g id="dl-13-2"><text class="t" x="437" y="1217">内容</text><path class="u" d="M433 1219.5H455"/></g>
<g id="dl-13-3"><text class="t" x="437" y="1226.5">联系方式</text><path class="u" d="M433 1229H457"/></g>
<g id="dl-13-4"><text class="t" x="437" y="1236">提交</text><path class="u" d="M433 1238.5H455"/></g>

<text class="wm" transform="translate(398 1128) scale(1 1.2)" x="0" y="0">https://www.huzhan.com/ishop46560</text>
</svg>
